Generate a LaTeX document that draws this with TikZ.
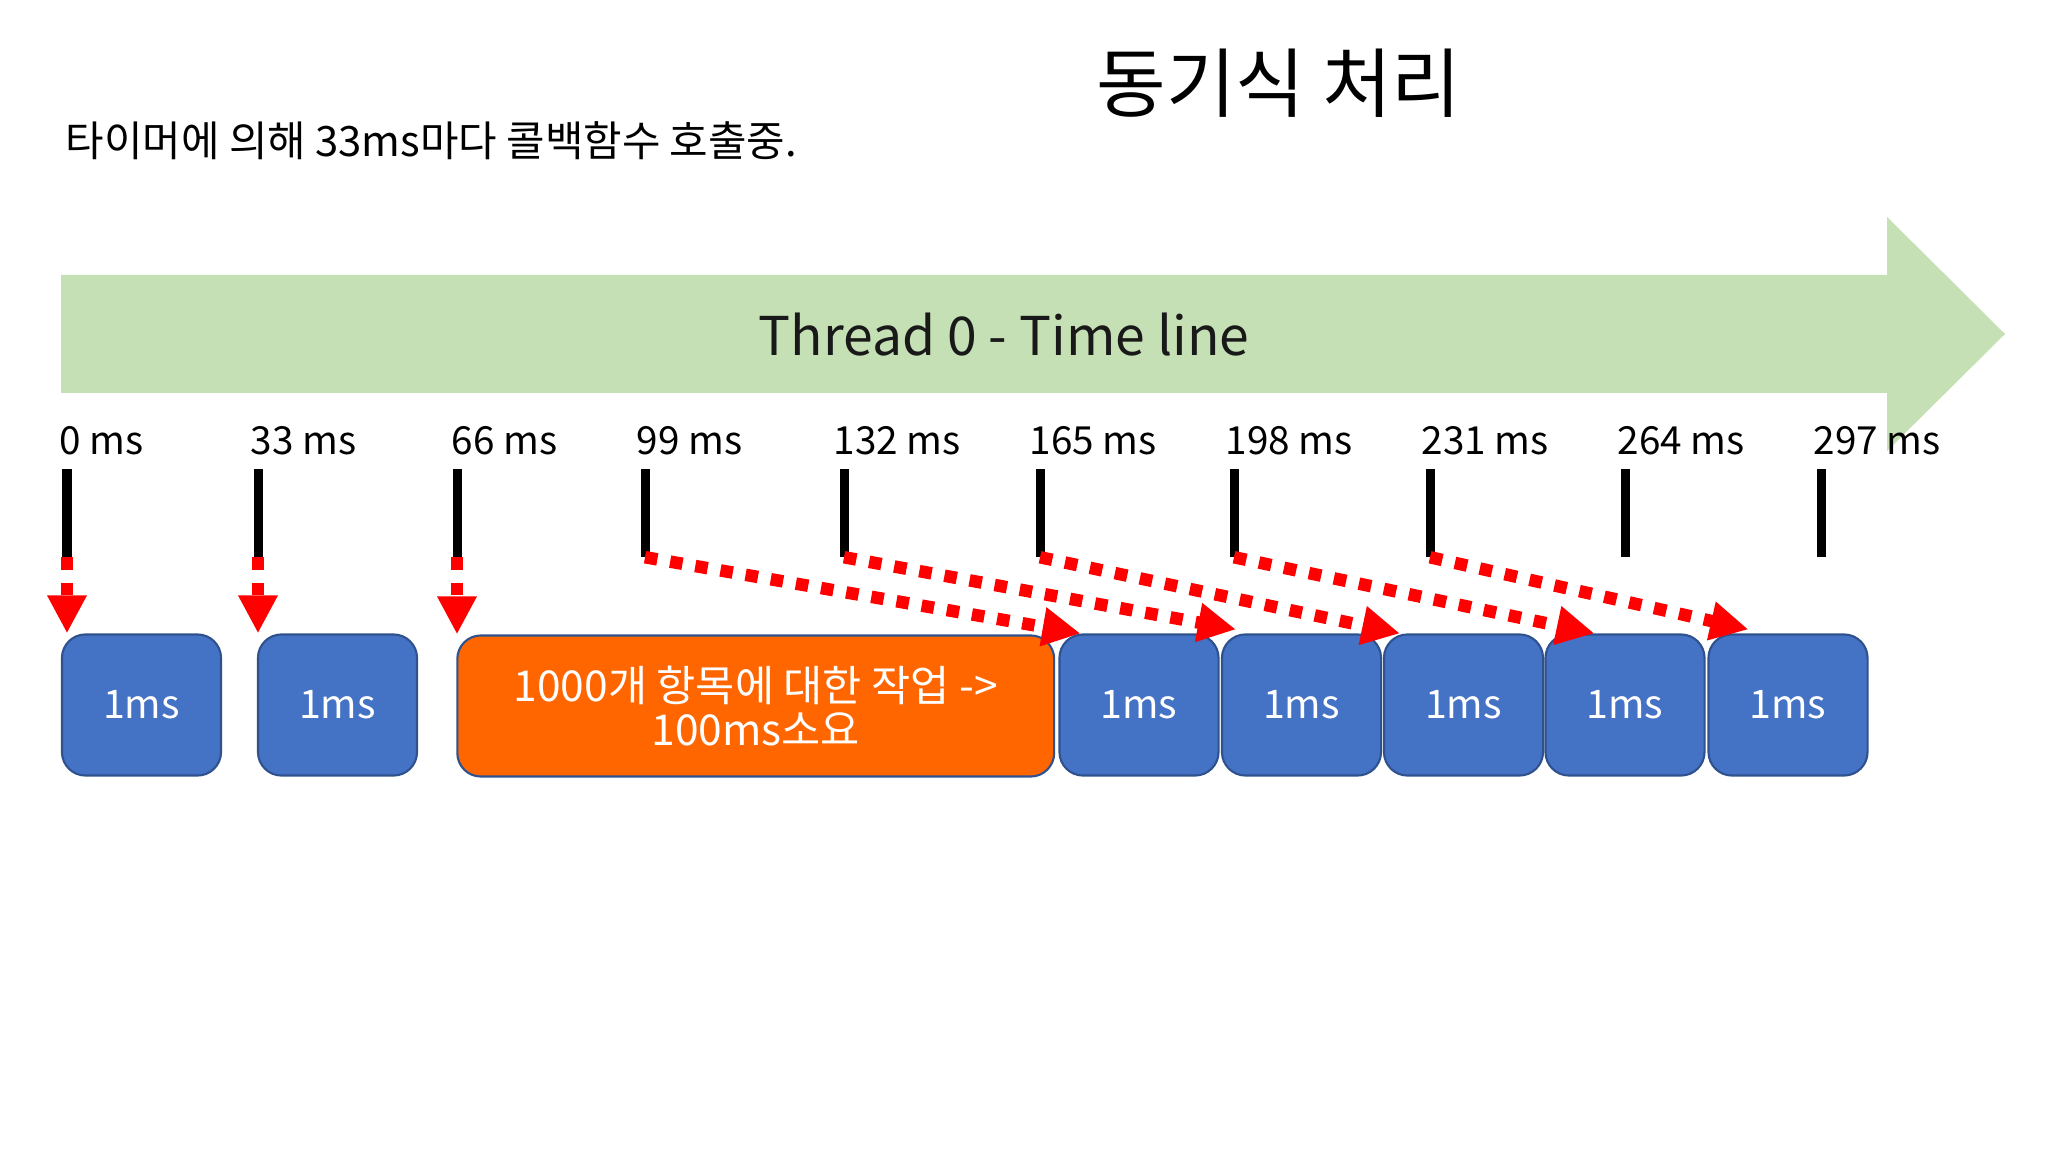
\documentclass[tikz,border=0pt]{standalone}
\usepackage{fontspec}
\setmainfont{Noto Sans CJK KR}
\usepackage{tikz}
\usepackage{xcolor}
\usetikzlibrary{arrows.meta,positioning,calc}
\definecolor{tlgreen}{HTML}{C5E0B4}
\definecolor{cbblue}{HTML}{4472C4}
\definecolor{cbedge}{HTML}{2F528F}
\definecolor{workorange}{HTML}{FF6600}
\definecolor{callred}{HTML}{FF0000}

\begin{document}
\begin{tikzpicture}[x=0.01cm,y=-0.01cm,
  cb/.style={draw=cbedge,line width=0.6pt,fill=cbblue,rounded corners=0.235cm,minimum width=1.59cm,minimum height=1.41cm,inner sep=0pt,text=white,align=center,font=\fontsize{11.2}{12.5}\selectfont},
  tick/.style={fill=black,minimum width=0.09cm,minimum height=0.87cm,inner sep=0pt},
  tlabel/.style={anchor=west,inner sep=0pt,font=\fontsize{11}{13}\selectfont},
  call/.style={-{Triangle[length=10.8pt,width=10.5pt]},callred,line width=3.56pt,dash pattern=on 3.56pt off 3.7pt}
]
\fill[white] (0,0) rectangle (2048,1152);
\useasboundingbox (0,0) rectangle (2048,1152);

\node[font=\fontsize{21.5}{25}\selectfont] (title) at (1279,83) {동기식 처리};
\node[anchor=west,inner sep=0pt,font=\fontsize{11.9}{14}\selectfont] (note) at (65,141) {타이머에 의해 33ms마다 콜백함수 호출중.};

% time line
\fill[tlgreen] (61,275) -- (1887,275) -- (1887,217) -- (2005,334) -- (1887,451) -- (1887,393) -- (61,393) -- cycle;
\node[font=\fontsize{15.2}{18}\selectfont,text=black!90] (timeline) at (1004,335) {Thread 0 - Time line};

\node[tick] (t0) at (67,513) {};
\node[tick] (t33) at (258,513) {};
\node[tick] (t66) at (457,513) {};
\node[tick] (t99) at (645,513) {};
\node[tick] (t132) at (844,513) {};
\node[tick] (t165) at (1040,513) {};
\node[tick] (t198) at (1234,513) {};
\node[tick] (t231) at (1430,513) {};
\node[tick] (t264) at (1625,513) {};
\node[tick] (t297) at (1821,513) {};

\node[tlabel] (l0) at (59,441) {0 ms};
\node[tlabel] (l33) at (250,441) {33 ms};
\node[tlabel] (l66) at (451,441) {66 ms};
\node[tlabel] (l99) at (636,441) {99 ms};
\node[tlabel] (l132) at (833,441) {132 ms};
\node[tlabel] (l165) at (1029,441) {165 ms};
\node[tlabel] (l198) at (1225,441) {198 ms};
\node[tlabel] (l231) at (1421,441) {231 ms};
\node[tlabel] (l264) at (1617,441) {264 ms};
\node[tlabel] (l297) at (1813,441) {297 ms};

% callbacks
\node[cb] (call1) at (141.5,705) {1ms};
\node[cb] (call2) at (337.5,705) {1ms};
\node[cb,fill=workorange,minimum width=5.965cm,font=\fontsize{12.1}{12.6}\selectfont] (work) at (755.75,706) {1000개 항목에 대한 작업 ->\\100ms소요};
\node[cb] (call3) at (1139,705) {1ms};
\node[cb] (call4) at (1301.5,705) {1ms};
\node[cb] (call5) at (1463.5,705) {1ms};
\node[cb] (call6) at (1625,705) {1ms};
\node[cb] (call7) at (1788,705) {1ms};

\draw[call] (t0.south) -- (t0.south |- call1.north);
\draw[call] (t33.south) -- (t33.south |- call2.north);
\draw[call] (t66.south) -- (t66.south |- work.north);
\draw[call] (t99.south) -- ($(call3.north west)+(22,0)$);
\draw[call] (t132.south) -- ($(call4.north west)+(15,-4)$);
\draw[call] (t165.south) -- ($(call5.north west)+(17,0)$);
\draw[call] (t198.south) -- ($(call6.north west)+(50,0)$);
\draw[call] (t231.south) -- ($(call7.north west)+(41,-4)$);
\end{tikzpicture}
\end{document}
